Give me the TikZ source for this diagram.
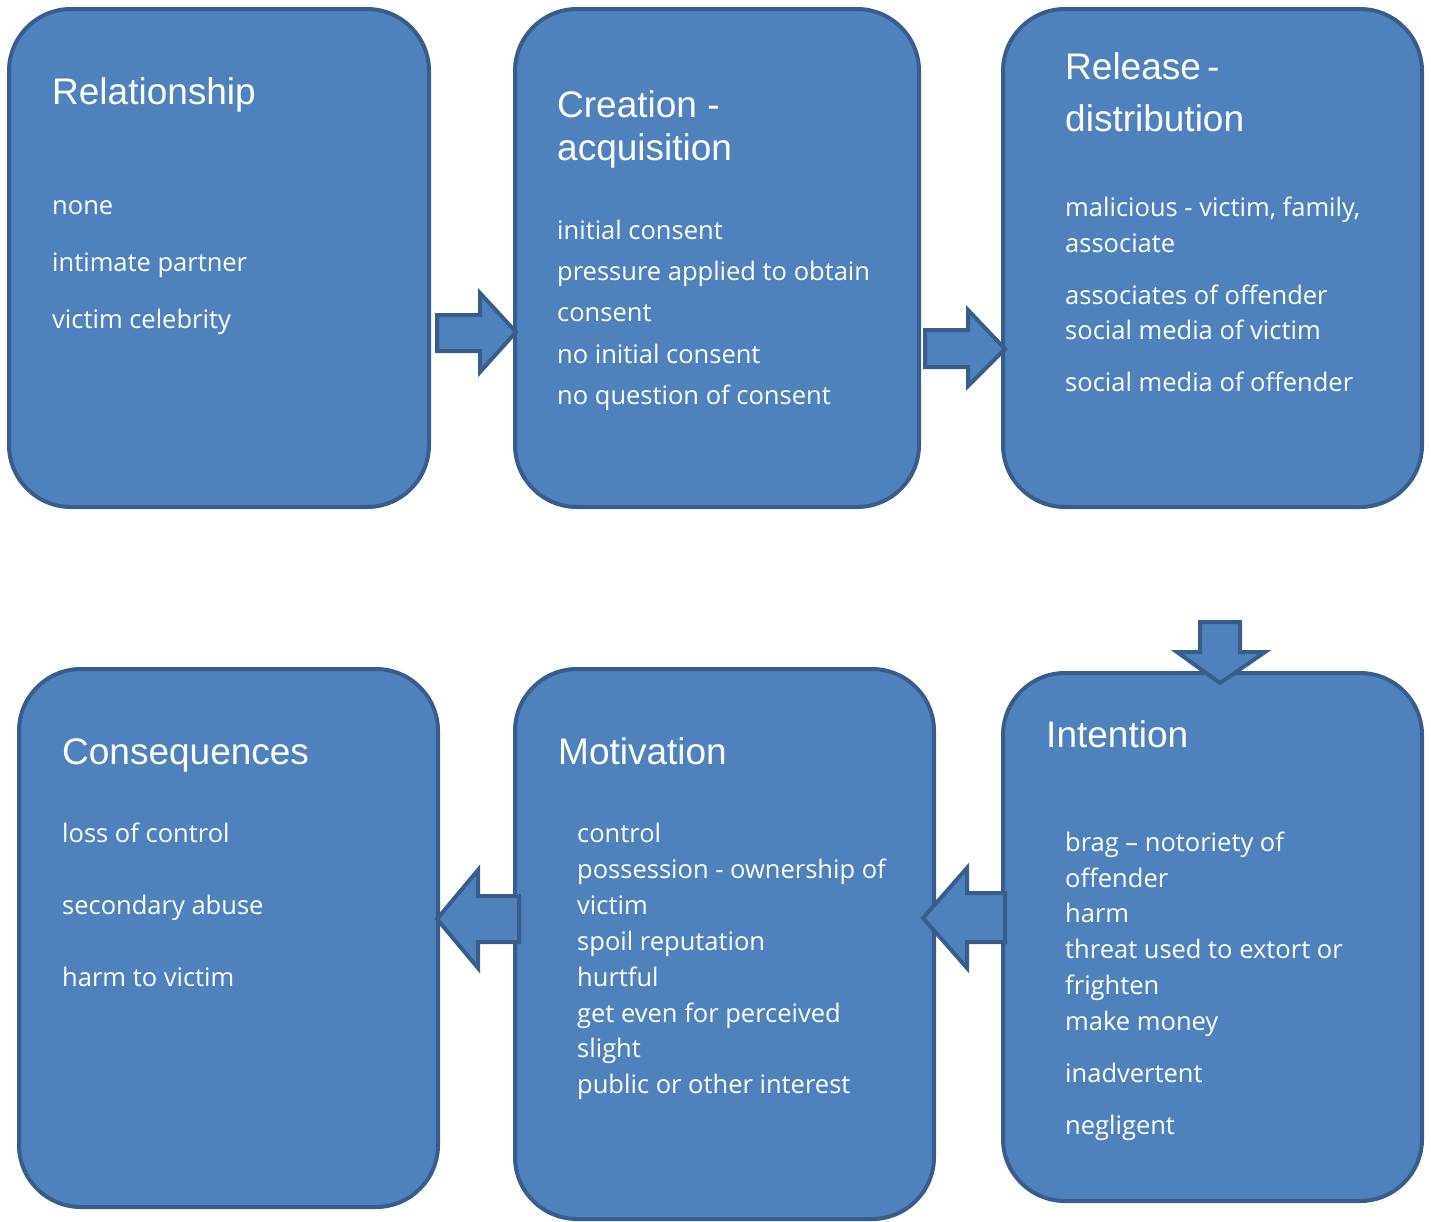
\documentclass[tikz,border=0pt]{standalone}
\usepackage{fontspec}
\newfontfamily\headfont{Liberation Sans}
\newfontfamily\bodyfont{Open Sans}
\definecolor{boxfill}{HTML}{4F81BD}
\definecolor{boxline}{HTML}{385D8A}
\begin{document}
\begin{tikzpicture}[x=1pt,y=-1pt,
  box/.style={draw=boxline,fill=boxfill,line width=4pt,rounded corners=62pt},
  blockarrow/.style={draw=boxline,fill=boxfill,line width=4pt,line join=miter},
  head/.style={anchor=base west,inner sep=0pt,text=white,font=\headfont\fontsize{37}{44}\selectfont},
  body/.style={anchor=base west,inner sep=0pt,text=white,font=\bodyfont\fontsize{25.5}{30}\selectfont}]
\useasboundingbox (0,0) rectangle (1431,1221);
% boxes
\draw[box] (9,9) rectangle (429,507);
\draw[box] (515,9) rectangle (919,507);
\draw[box] (1003,9) rectangle (1422,507);
\draw[box] (19,669) rectangle (438,1207);
\draw[box] (515,669) rectangle (934,1219);
\draw[box] (1003,673) rectangle (1422,1201);
% arrows
\draw[blockarrow] (437,315) -- (480,315) -- (480,293) -- (516,332) -- (480,372) -- (480,351) -- (437,351) -- cycle;
\draw[blockarrow] (925,330) -- (968,330) -- (968,310) -- (1005,349) -- (968,386) -- (968,367) -- (925,367) -- cycle;
\draw[blockarrow] (1200,622) -- (1240,622) -- (1240,652) -- (1265,652) -- (1220,683) -- (1177,652) -- (1200,652) -- cycle;
\draw[blockarrow] (1005,893) -- (967,893) -- (967,868) -- (923,918) -- (967,968) -- (967,942) -- (1005,942) -- cycle;
\draw[blockarrow] (519,896) -- (478,896) -- (478,870) -- (437,919) -- (478,968) -- (478,942) -- (519,942) -- cycle;
% box 1
\node[head] (t1) at (52,104) {Relationship};
\node[body] (t1a) at (52,214) {none};
\node[body] (t1b) at (52,271) {intimate partner};
\node[body] (t1c) at (52,328) {victim celebrity};
% box 2
\node[head] (t2) at (557,117) {Creation -};
\node[head] (t2b) at (557,160) {acquisition};
\node[body] (t2c) at (557,239) {initial consent};
\node[body] (t2d) at (557,280) {pressure applied to obtain};
\node[body] (t2e) at (557,321) {consent};
\node[body] (t2f) at (557,363) {no initial consent};
\node[body] (t2g) at (557,404) {no question of consent};
% box 3
\node[head] (t3) at (1065,79) {Release\,-};
\node[head] (t3b) at (1065,131) {distribution};
\node[body] (t3c) at (1065,216) {malicious - victim, family,};
\node[body] (t3d) at (1065,252) {associate};
\node[body] (t3e) at (1065,304) {associates of offender};
\node[body] (t3f) at (1065,339) {social media of victim};
\node[body] (t3g) at (1065,391) {social media of offender};
% box 4
\node[head] (t4) at (62,764) {Consequences};
\node[body] (t4a) at (62,842) {loss of control};
\node[body] (t4b) at (62,914) {secondary abuse};
\node[body] (t4c) at (62,986) {harm to victim};
% box 5
\node[head] (t5) at (558,764) {Motivation};
\node[body] (t5a) at (577,842) {control};
\node[body] (t5b) at (577,878) {possession - ownership of};
\node[body] (t5c) at (577,914) {victim};
\node[body] (t5d) at (577,950) {spoil reputation};
\node[body] (t5e) at (577,986) {hurtful};
\node[body] (t5f) at (577,1022) {get even for perceived};
\node[body] (t5g) at (577,1057) {slight};
\node[body] (t5h) at (577,1093) {public or other interest};
% box 6
\node[head] (t6) at (1046,747) {Intention};
\node[body] (t6a) at (1065,851) {brag – notoriety of};
\node[body] (t6b) at (1065,887) {offender};
\node[body] (t6c) at (1065,922) {harm};
\node[body] (t6d) at (1065,958) {threat used to extort or};
\node[body] (t6e) at (1065,994) {frighten};
\node[body] (t6f) at (1065,1030) {make money};
\node[body] (t6g) at (1065,1082) {inadvertent};
\node[body] (t6h) at (1065,1134) {negligent};
\end{tikzpicture}
\end{document}
